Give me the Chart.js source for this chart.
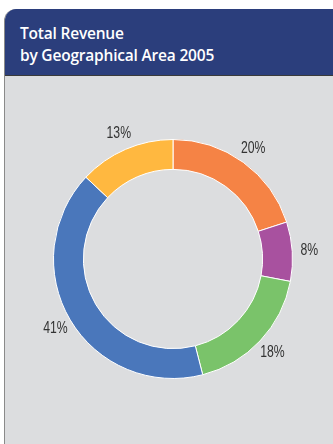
<!DOCTYPE html>
<html><head><meta charset="utf-8">
<script src="https://cdn.jsdelivr.net/npm/chart.js@4/dist/chart.umd.min.js"></script>
<style>
html,body{margin:0;padding:0;background:#fff;width:333px;height:444px;overflow:hidden;}
#panel{position:absolute;left:4px;top:9px;width:345px;height:440px;background:#dcdddf;border-left:1px solid #8a8a8a;border-top-left-radius:12px;overflow:hidden;}
#head{position:absolute;left:0;top:0;width:100%;height:66px;background:#2b3e7c;border-bottom:1px solid #3a3a3a;}
#title{position:absolute;left:15px;top:13px;color:#fff;font-family:"Open Sans",sans-serif;font-weight:600;font-size:15.5px;line-height:22px;letter-spacing:-0.2px;}
#wrap{position:absolute;left:0;top:75px;width:333px;height:369px;}
</style></head><body>
<div id="panel"><div id="head"><div id="title">Total Revenue<br>by Geographical Area 2005</div></div></div>
<div id="wrap"><canvas id="c" width="333" height="369"></canvas></div>
<script>
const categories = ["Region A","Region B","Region C","Region D","Region E"];
const values = [20, 8, 18, 41, 13];
const labels = ["20%","8%","18%","41%","13%"];
const colors = ["#f58345","#a8519f","#7ac36a","#4a77bb","#ffb840"];

const labelPlugin = {
  id: 'outLabels',
  afterDatasetsDraw(chart) {
    const ctx = chart.ctx;
    const meta = chart.getDatasetMeta(0);
    meta.data.forEach((arc, i) => {
      const p = arc.getProps(['x','y','startAngle','endAngle','outerRadius'], true);
      const a = (p.startAngle + p.endAngle) / 2;
      const r = p.outerRadius + 17;
      const lx = p.x + Math.cos(a) * r, ly = p.y + Math.sin(a) * r;
      ctx.save();
      ctx.translate(lx, ly);
      ctx.scale(0.72, 1);
      ctx.fillStyle = '#333';
      ctx.font = '17px "Liberation Sans","DejaVu Sans",sans-serif';
      ctx.textAlign = 'center';
      ctx.textBaseline = 'middle';
      ctx.fillText(labels[i], 0, 0);
      ctx.restore();
    });
  }
};

new Chart(document.getElementById('c'), {
  type: 'doughnut',
  data: { labels: categories, datasets: [{ data: values, backgroundColor: colors, borderColor: '#ffffff', borderWidth: 1 }] },
  options: {
    responsive: false,
    animation: false,
    cutout: '75%',
    layout: { padding: { left: 53, right: 40, top: 64, bottom: 65 } },
    plugins: { legend: { display: false }, tooltip: { enabled: false } }
  },
  plugins: [labelPlugin]
});
</script>
</body></html>
